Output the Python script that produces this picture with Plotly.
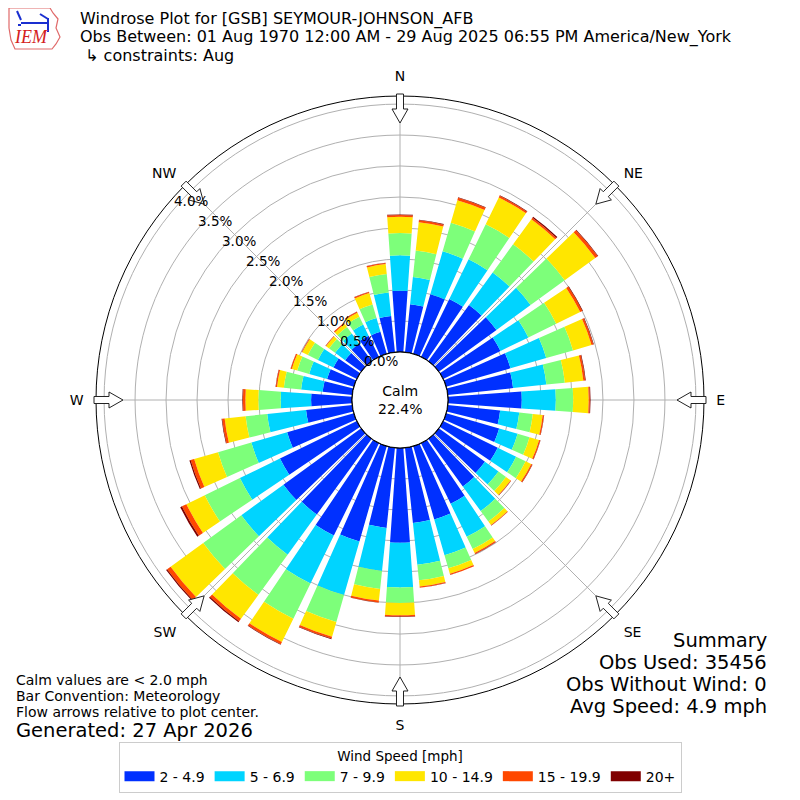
import math
import plotly.graph_objects as go

# wind directions (deg, meteorological) and speed bins
directions = list(range(0, 360, 10))
speed_bins = ["2 - 4.9", "5 - 6.9", "7 - 9.9", "10 - 14.9", "15 - 19.9", "20+"]
bin_colors = ["#0030ff", "#00d4ff", "#7dff7a", "#ffe600", "#ff4800", "#800000"]

# frequency (%) per direction for each speed bin
pct_2_5 = [0.99, 0.78, 1.00, 1.04, 1.12, 1.15, 1.03, 1.08, 1.06, 1.19,
           0.85, 0.89, 0.98, 0.92, 0.95, 1.09, 1.23, 1.22, 1.53, 1.30,
           1.60, 1.66, 1.51, 1.55, 1.38, 1.12, 0.75, 0.66, 0.48, 0.45,
           0.42, 0.32, 0.35, 0.38, 0.37, 0.59]
pct_5_7 = [0.57, 0.44, 0.72, 0.71, 0.65, 0.68, 0.50, 0.60, 0.54, 0.55,
           0.31, 0.31, 0.33, 0.27, 0.49, 0.59, 0.60, 0.68, 0.72, 0.70,
           0.90, 0.86, 0.80, 0.84, 0.72, 0.60, 0.63, 0.49, 0.35, 0.30,
           0.28, 0.20, 0.20, 0.20, 0.23, 0.38]
pct_7_10 = [0.36, 0.43, 0.48, 0.63, 0.56, 0.68, 0.50, 0.45, 0.30, 0.28,
            0.22, 0.20, 0.17, 0.15, 0.21, 0.22, 0.22, 0.25, 0.25, 0.29,
            0.45, 0.63, 0.80, 0.76, 0.63, 0.56, 0.35, 0.36, 0.28, 0.20,
            0.18, 0.12, 0.13, 0.14, 0.23, 0.30]
pct_10_15 = [0.26, 0.46, 0.38, 0.48, 0.50, 0.61, 0.43, 0.31, 0.30, 0.25,
             0.16, 0.16, 0.10, 0.09, 0.07, 0.07, 0.09, 0.10, 0.20, 0.19,
             0.25, 0.42, 0.48, 0.65, 0.33, 0.40, 0.34, 0.21, 0.11, 0.09,
             0.10, 0.06, 0.06, 0.07, 0.19, 0.16]
pct_15_20 = [0.03, 0.03, 0.04, 0.03, 0.03, 0.05, 0.04, 0.03, 0.03, 0.02,
             0.02, 0.02, 0.02, 0.01, 0.01, 0.02, 0.02, 0.02, 0.02, 0.03,
             0.03, 0.04, 0.05, 0.07, 0.08, 0.06, 0.04, 0.04, 0.02, 0.02,
             0.01, 0.01, 0.02, 0.02, 0.02, 0.02]
pct_20up = [0.01, 0.01, 0.01, 0.01, 0.02, 0.01, 0.01, 0.01, 0.01, 0.01,
            0.005, 0.005, 0.005, 0.003, 0.003, 0.003, 0.003, 0.003, 0.005, 0.005,
            0.01, 0.01, 0.02, 0.02, 0.03, 0.02, 0.01, 0.01, 0.005, 0.003,
            0.003, 0.002, 0.002, 0.002, 0.003, 0.003]

compass_angles = [0, 45, 90, 135, 180, 225, 270, 315]
compass_labels = ["N", "NE", "E", "SE", "S", "SW", "W", "NW"]
radial_ticks = [0.0, 0.5, 1.0, 1.5, 2.0, 2.5, 3.0, 3.5, 4.0]

calm_pct = 22.4
title_lines = [
    "Windrose Plot for [GSB] SEYMOUR-JOHNSON_AFB",
    "Obs Between: 01 Aug 1970 12:00 AM - 29 Aug 2025 06:55 PM America/New_York",
    " \u21b3 constraints: Aug",
]
left_notes = ["Calm values are < 2.0 mph", "Bar Convention: Meteorology",
              "Flow arrows relative to plot center."]
summary_lines = ["Summary", "Obs Used: 35456", "Obs Without Wind: 0", "Avg Speed: 4.9 mph"]

# page has an 8px body margin; layout numbers below are in window pixels
OFF = 8
FW = FH = 792
CX, CY = 400, 400          # polar center (window px)
R_OUT = 304                # outer radius (px)
R_HOLE = 48                # calm circle radius (px)
R_MAX = 4.13               # radial range max (%)


def paper(x, y):
    return (x - OFF) / FW, 1 - (y - OFF) / FH


def to_px(val, ang):
    """radial value (%) + compass angle -> window pixel coords"""
    r = R_HOLE + (R_OUT - R_HOLE) * val / R_MAX
    a = math.radians(ang)
    return CX + r * math.sin(a), CY - r * math.cos(a)


fig = go.Figure()

series = [pct_2_5, pct_5_7, pct_7_10, pct_10_15, pct_15_20, pct_20up]
for name, color, vals in zip(speed_bins, bin_colors, series):
    fig.add_trace(go.Barpolar(
        r=vals, theta=directions, width=8,
        marker=dict(color=color, line=dict(width=0)),
        name=name, showlegend=False, hoverinfo="skip",
    ))

# calm circle outline
fig.add_trace(go.Scatterpolar(
    r=[0] * 361, theta=list(range(361)), mode="lines",
    line=dict(color="black", width=1.2), showlegend=False, hoverinfo="skip",
))

# legend swatches
for name, color in zip(speed_bins, bin_colors):
    fig.add_trace(go.Scatterpolar(
        r=[None], theta=[None], mode="lines", name=name,
        line=dict(color=color, width=10),
    ))

# flow arrows at the compass points
shapes = []
for ang in compass_angles:
    a = math.radians(ang)
    ux, uy = math.sin(a), -math.cos(a)   # outward (px, y down)
    vx, vy = math.cos(a), math.sin(a)    # perpendicular

    def p(r, w):
        return paper(CX + r * ux + w * vx, CY + r * uy + w * vy)

    pts = [p(306, -3.5), p(291, -3.5), p(291, -8), p(277, 0),
           p(291, 8), p(291, 3.5), p(306, 3.5)]
    path = "M " + " L ".join(f"{x:.5f},{y:.5f}" for x, y in pts) + " Z"
    shapes.append(dict(type="path", path=path, xref="paper", yref="paper",
                       fillcolor="white", line=dict(color="#222222", width=1)))


def path_of(pts, close=True):
    s = "M " + " L ".join("{:.5f},{:.5f}".format(*paper(x, y)) for x, y in pts)
    return s + (" Z" if close else "")


# IEM logo (rough Iowa outline + station glyph)
logo = [(9, 8), (50, 8), (53, 13), (58, 19), (56, 28), (60, 37), (56, 44),
        (52, 49), (15, 49), (11, 40), (9, 28), (9, 16)]
shapes.append(dict(type="path", xref="paper", yref="paper", path=path_of(logo),
                   line=dict(color="#e06a6a", width=1.2)))
for seg in ([(21, 23), (49, 23)], [(48, 18), (48, 32)], [(40, 14), (48, 19)],
            [(17, 11), (21, 20)], [(18, 25), (21, 25)]):
    shapes.append(dict(type="path", xref="paper", yref="paper", path=path_of(seg, False),
                       line=dict(color="#1a2fd0", width=2)))

annotations = []
for i, line in enumerate(title_lines):
    x, y = paper(78, 18.5 + 18.6 * i)
    annotations.append(dict(text=line, x=x, y=y, xref="paper", yref="paper",
                            xanchor="left", yanchor="middle", showarrow=False,
                            font=dict(size=16)))
x, y = paper(31, 37)
annotations.append(dict(text="<i>IEM</i>", x=x, y=y, xref="paper", yref="paper",
                        xanchor="center", yanchor="middle", showarrow=False,
                        font=dict(family="Liberation Serif", size=18, color="#d42020")))

# radial tick labels along the NW side
for t in radial_ticks:
    px, py = to_px(t, 310)
    x, y = paper(px - 1, py - 8.5)
    annotations.append(dict(text=f"{t:.1f}%", x=x, y=y, xref="paper", yref="paper",
                            xanchor="left", yanchor="middle", showarrow=False,
                            font=dict(size=13.5)))

x, y = paper(CX, CY)
annotations.append(dict(text=f"Calm<br>{calm_pct}%", x=x, y=y, xref="paper", yref="paper",
                        xanchor="center", yanchor="middle", showarrow=False, font=dict(size=14)))

for i, line in enumerate(left_notes):
    x, y = paper(14, 680 + 16 * i)
    annotations.append(dict(text=line, x=x, y=y, xref="paper", yref="paper",
                            xanchor="left", yanchor="middle", showarrow=False, font=dict(size=14)))
x, y = paper(14, 730)
annotations.append(dict(text="Generated: 27 Apr 2026", x=x, y=y, xref="paper", yref="paper",
                        xanchor="left", yanchor="middle", showarrow=False, font=dict(size=19.5)))

for i, line in enumerate(summary_lines):
    x, y = paper(769, 640 + 22 * i)
    annotations.append(dict(text=line, x=x, y=y, xref="paper", yref="paper",
                            xanchor="right", yanchor="middle", showarrow=False, font=dict(size=19.5)))

dx0, dy0 = paper(CX - R_OUT, CY + R_OUT)
dx1, dy1 = paper(CX + R_OUT, CY - R_OUT)
lx, ly = paper(400, 742)

fig.update_layout(
    width=FW, height=FH,
    margin=dict(l=0, r=0, t=0, b=0),
    paper_bgcolor="white",
    font=dict(family="DejaVu Sans", color="black"),
    polar=dict(
        domain=dict(x=[dx0, dx1], y=[dy0, dy1]),
        hole=R_HOLE / R_OUT,
        bgcolor="white",
        barmode="stack",
        angularaxis=dict(
            rotation=90, direction="clockwise",
            tickmode="array", tickvals=compass_angles, ticktext=compass_labels,
            ticks="outside", ticklen=9, tickcolor="rgba(0,0,0,0)",
            tickfont=dict(size=14),
            showline=True, linecolor="black", linewidth=1,
            showgrid=True, gridcolor="#b0b0b0", gridwidth=1,
            layer="above traces",
        ),
        radialaxis=dict(
            range=[0, R_MAX], tickmode="array", tickvals=radial_ticks,
            showticklabels=False, ticks="", showline=False,
            showgrid=True, gridcolor="#b0b0b0", gridwidth=1,
            layer="above traces",
        ),
    ),
    legend=dict(
        orientation="h", x=lx, xanchor="center", y=ly, yanchor="top",
        title=dict(text="Wind Speed [mph]", side="top center", font=dict(size=13.5)),
        font=dict(size=14), bordercolor="#cccccc", borderwidth=1,
        itemwidth=30,
    ),
    shapes=shapes,
    annotations=annotations,
)

fig.write_html("out.html")
